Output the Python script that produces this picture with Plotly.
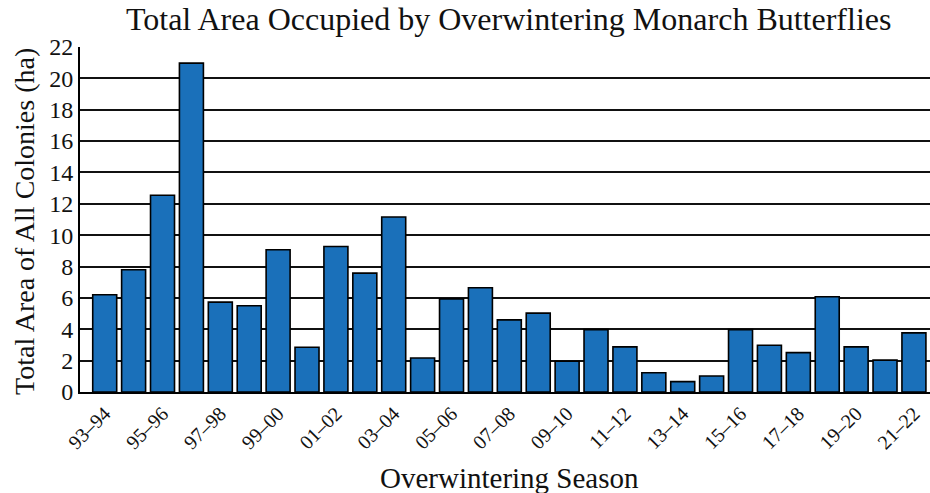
import plotly.graph_objects as go

seasons = ["93–94", "94–95", "95–96", "96–97", "97–98", "98–99", "99–00", "00–01",
           "01–02", "02–03", "03–04", "04–05", "05–06", "06–07", "07–08", "08–09",
           "09–10", "10–11", "11–12", "12–13", "13–14", "14–15", "15–16", "16–17",
           "17–18", "18–19", "19–20", "20–21", "21–22"]
area_ha = [6.2, 7.8, 12.55, 20.97, 5.73, 5.5, 9.07, 2.85,
           9.28, 7.58, 11.16, 2.17, 5.94, 6.65, 4.6, 5.03,
           1.96, 3.98, 2.88, 1.23, 0.66, 1.02, 3.98, 2.98,
           2.51, 6.07, 2.88, 2.03, 3.77]
y_ticks = list(range(0, 23, 2))
x_ticks = seasons[::2]

serif = "Liberation Serif, Times New Roman, serif"
ink = "#111111"

fig = go.Figure(go.Bar(
    x=seasons, y=area_ha,
    marker=dict(color="#1a70ba", line=dict(color="#000000", width=1.6)),
))

fig.update_layout(
    width=930, height=493,
    margin=dict(l=80, r=0, t=47, b=101, autoexpand=False),
    paper_bgcolor="white", plot_bgcolor="white",
    bargap=0.17,
    showlegend=False,
    font=dict(family=serif, color=ink),
    title=dict(text="Total Area Occupied by Overwintering Monarch Butterflies",
               x=0.547, xanchor="center", y=0.962, yanchor="middle",
               font=dict(size=32, family=serif, color=ink)),
    xaxis=dict(
        tickmode="array", tickvals=x_ticks, ticktext=x_ticks,
        tickangle=-45, tickfont=dict(size=20, family=serif),
        showgrid=False, showline=True, linecolor="black", linewidth=2,
        ticks="", range=[-0.855, 28.556], automargin=False,
    ),
    yaxis=dict(
        range=[0, 22], tickvals=y_ticks,
        tickfont=dict(size=24, family=serif),
        showgrid=True, gridcolor=ink, gridwidth=1.6,
        showline=True, linecolor="black", linewidth=2,
        zeroline=False, ticks="", automargin=False,
    ),
    annotations=[
        dict(text="Overwintering Season", xref="paper", yref="paper",
             x=0.505, y=0, xanchor="center", yanchor="middle", yshift=-86,
             showarrow=False, font=dict(size=29, family=serif, color=ink)),
        dict(text="Total Area of All Colonies (ha)", xref="paper", yref="paper",
             x=0, y=0.493, xanchor="center", yanchor="middle", xshift=-55,
             textangle=-90, showarrow=False, font=dict(size=28, family=serif, color=ink)),
    ],
)

fig.write_html("out.html", config={"displayModeBar": False},
               post_script="document.body.style.margin='0';")
